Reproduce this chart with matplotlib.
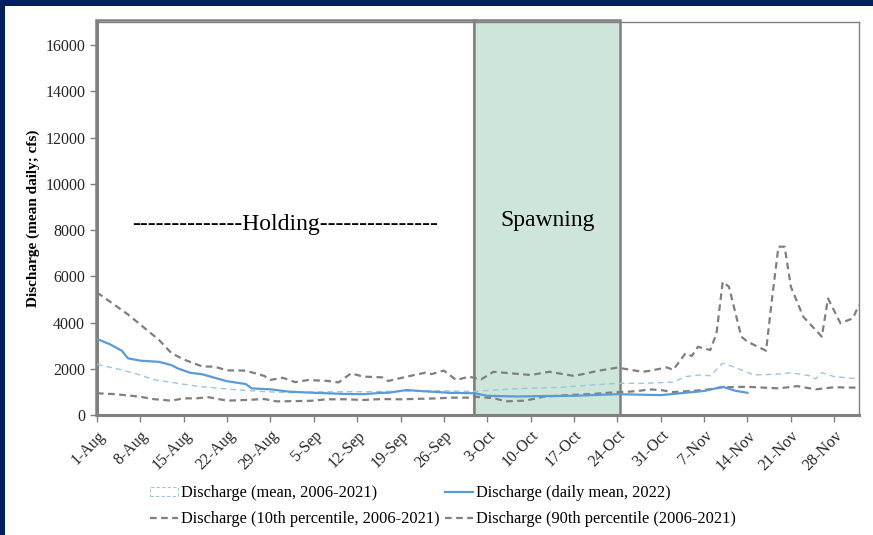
import matplotlib
matplotlib.use("Agg")
import matplotlib.pyplot as plt
import matplotlib.transforms as mtransforms
from matplotlib.patches import Rectangle, Patch

plt.rcParams['font.family'] = ['Liberation Serif', 'DejaVu Serif']

# tick labels (weekly from 1-Aug)
tick_labels = ['1-Aug', '8-Aug', '15-Aug', '22-Aug', '29-Aug', '5-Sep', '12-Sep',
               '19-Sep', '26-Sep', '3-Oct', '10-Oct', '17-Oct', '24-Oct', '31-Oct',
               '7-Nov', '14-Nov', '21-Nov', '28-Nov']
tick_days = [7 * i for i in range(len(tick_labels))]

# days after 1-Aug / discharge in cfs
p90_days = [0, 5, 10, 12, 14, 17, 19, 21, 24, 27, 28, 30, 32, 34, 37, 39, 41, 43, 46,
            47, 50, 53, 54, 56, 58, 60, 62, 64, 67, 70, 73, 77, 79, 81, 84, 88, 89, 92,
            93, 95, 96, 97, 99, 100, 101, 102, 104, 105, 108, 109, 110, 111, 112, 114,
            117, 118, 120, 122, 123]
p90_vals = [5300, 4350, 3250, 2680, 2400, 2100, 2090, 1930, 1920, 1690, 1520, 1610, 1420,
            1510, 1480, 1410, 1800, 1660, 1630, 1470, 1660, 1830, 1770, 1920, 1510, 1660,
            1540, 1870, 1800, 1730, 1870, 1690, 1800, 1920, 2050, 1870, 1900, 2060, 1950,
            2670, 2550, 2950, 2810, 3530, 5760, 5550, 3390, 3170, 2780, 5120, 7280, 7280,
            5550, 4250, 3390, 5040, 3970, 4180, 4760]

p10_days = [0, 3, 7, 9, 12, 14, 16, 18, 21, 24, 27, 29, 32, 35, 37, 40, 43, 46, 49, 55,
            57, 60, 61, 64, 66, 69, 71, 72, 76, 80, 84, 86, 88, 89, 91, 93, 98, 101, 105,
            110, 113, 116, 119, 123]
p10_vals = [940, 900, 790, 690, 620, 720, 720, 770, 620, 650, 690, 590, 600, 620, 680, 680,
            650, 690, 680, 720, 750, 750, 790, 730, 590, 620, 720, 790, 860, 910, 990, 1010,
            1060, 1110, 1080, 990, 1080, 1200, 1220, 1150, 1250, 1110, 1200, 1180]

mean_days = [0, 4, 7, 9, 13, 16, 20, 23, 27, 31, 35, 44, 55, 61, 67, 75, 80, 84, 88, 91,
             93, 95, 97, 99, 101, 102, 104, 106, 110, 112, 115, 116, 117, 119, 123]
mean_vals = [2190, 1950, 1730, 1540, 1370, 1250, 1150, 1080, 1010, 960, 1000, 1010, 1050,
             1020, 1130, 1200, 1300, 1370, 1370, 1400, 1420, 1660, 1730, 1700, 2240, 2160,
             1950, 1730, 1770, 1830, 1700, 1560, 1830, 1660, 1560]

d2022_days = [0, 2, 4, 5, 7, 10, 12, 13, 15, 17, 19, 21, 24, 25, 28, 31, 35, 40, 43, 46,
              47, 50, 52, 57, 61, 63, 68, 72, 77, 84, 91, 93, 98, 101, 103, 105]
d2022_vals = [3290, 3070, 2780, 2450, 2350, 2300, 2160, 2020, 1830, 1760, 1610, 1460, 1340,
              1150, 1110, 1010, 960, 910, 900, 960, 960, 1080, 1040, 960, 940, 830, 800,
              820, 830, 900, 860, 910, 1040, 1220, 1050, 960]

fig = plt.figure(figsize=(8.73, 5.35), dpi=100)
fig.patch.set_facecolor('white')
navy = '#002060'
fig.add_artist(Rectangle((0, 1 - 6 / 535), 1, 6 / 535, transform=fig.transFigure,
                         facecolor=navy, edgecolor='none'))
fig.add_artist(Rectangle((0, 0), 5 / 873, 1, transform=fig.transFigure,
                         facecolor=navy, edgecolor='none'))

ax = fig.add_axes([97 / 873, 1 - 415 / 535, (859 - 97) / 873, (415 - 22) / 535])
ax.set_xlim(0, 123)
ax.set_ylim(0, 17000)

grey = '#808080'
# holding / spawning boxes
trans = mtransforms.blended_transform_factory(ax.transData, ax.transAxes)
ax.add_patch(Rectangle((-0.2, 0), 61.1, 1.006, transform=trans, facecolor='none',
                       edgecolor=grey, lw=1.8, clip_on=False, zorder=1))
ax.add_patch(Rectangle((60.9, 0), 23.5, 1.006, transform=trans, facecolor='#cde6d9',
                       edgecolor=grey, lw=1.8, clip_on=False, zorder=1))

ax.plot(mean_days, mean_vals, color='#9dc3e6', lw=1.0, ls=(0, (4, 3)), zorder=3)
l_2022, = ax.plot(d2022_days, d2022_vals, color='#5b9bd5', lw=1.6, zorder=4)
l_p10, = ax.plot(p10_days, p10_vals, color='#7f7f7f', lw=1.6, ls=(0, (3, 2)), zorder=3)
l_p90, = ax.plot(p90_days, p90_vals, color='#7f7f7f', lw=1.6, ls=(0, (3, 2)), zorder=3)
h_mean = Patch(facecolor='none', edgecolor='#9dc3e6', lw=0.8, ls=(0, (3, 2)))

ax.text(30.4, 8250, '--------------Holding---------------', fontsize=17,
        ha='center', va='center', zorder=5)
ax.text(72.7, 8400, 'Spawning', fontsize=17, ha='center', va='center', zorder=5)

ax.set_xticks(tick_days)
ax.set_xticklabels(tick_labels, rotation=45, ha='right', rotation_mode='anchor')
ax.set_yticks(range(0, 16001, 2000))
ax.tick_params(axis='both', labelsize=11.5, color=grey, length=5, width=1,
               labelcolor='#262626')
ax.tick_params(axis='x', pad=4)

for side in ['left', 'bottom']:
    ax.spines[side].set_color(grey)
    ax.spines[side].set_linewidth(2.2)
for side in ['top', 'right']:
    ax.spines[side].set_color(grey)
    ax.spines[side].set_linewidth(1.0)

ax.set_ylabel('Discharge (mean daily; cfs)', fontsize=11, fontweight='bold', labelpad=4)

# column-wise fill: mean / 10th in col 1, 2022 / 90th in col 2
fig.legend([h_mean, l_p10, l_2022, l_p90],
           ['Discharge (mean, 2006-2021)', 'Discharge (10th percentile, 2006-2021)',
            'Discharge (daily mean, 2022)', 'Discharge (90th percentile (2006-2021)'],
           loc='upper left', bbox_to_anchor=(150 / 873, 1 - 485 / 535),
           borderpad=0, borderaxespad=0,
           ncol=2, frameon=False, fontsize=11.8, handlelength=1.7, handleheight=0.5,
           handletextpad=0.2, columnspacing=0.3, labelspacing=0.6)

fig.savefig('out.png', dpi=100)
